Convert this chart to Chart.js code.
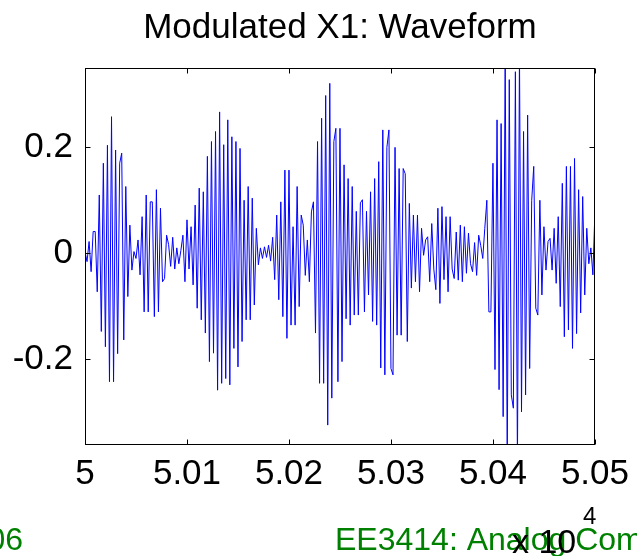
<!DOCTYPE html>
<html>
<head>
<meta charset="utf-8">
<title>Modulated X1: Waveform</title>
<script src="https://cdn.jsdelivr.net/npm/chart.js"></script>
<style>
  html, body { margin: 0; padding: 0; background: #fff; overflow: hidden; }
  #wrap { width: 637px; height: 556px; }
</style>
</head>
<body>
<div id="wrap"><canvas id="wave" width="637" height="556"></canvas></div>
<script>
// samples, n = 50000:2:50500
const sampleStart = 50000;
const sampleStep = 2;
const modulatedX1 = [
  0.003, -0.016, 0.022, -0.035, 0.041, 0.041, -0.073, 0.110, -0.148, 0.170,
  -0.177, 0.204, -0.243, 0.258, -0.243, 0.195, -0.190, 0.170, 0.189, -0.164,
  0.126, -0.082, 0.053, -0.032, 0.003, -0.010, 0.025, -0.041, 0.069, -0.111,
  0.110, -0.111, 0.097, 0.097, -0.120, 0.120, -0.111, 0.085, -0.054, -0.048,
  0.034,
  0.016, -0.025, 0.030, -0.030, 0.010, -0.020, 0.005, 0.034, -0.054, 0.063,
  -0.030, 0.050, -0.060, 0.091, -0.104, 0.123, -0.126, 0.116, -0.151, 0.183,
  -0.205, 0.211, -0.189, 0.230, -0.259, 0.267, -0.246, 0.205, -0.237, 0.252,
  -0.249, 0.220, -0.180, 0.211, -0.215, 0.198, -0.167, 0.100, -0.126, 0.126,
  -0.126, 0.104,
  -0.098, 0.047, -0.022, 0.010, -0.010, 0.012, -0.008, 0.015, -0.015, 0.030,
  -0.050, 0.072, -0.088, 0.097, -0.120, 0.157, -0.161, 0.157, -0.136, 0.050,
  -0.136, 0.126, -0.101, 0.072, 0.053, -0.042, 0.025, -0.054, 0.078, 0.097,
  -0.151, 0.211, -0.246, 0.255, -0.246, 0.298, -0.325, 0.321, -0.274, 0.211,
  0.236, -0.243,
  0.236, -0.205, 0.167, -0.124, 0.141, -0.136, 0.126, -0.117, 0.079, -0.117,
  0.095, 0.101, -0.111, 0.079, -0.079, 0.116, -0.129, 0.141, -0.136, 0.173,
  -0.217, 0.233, -0.230, 0.200, 0.233, -0.218, -0.230, 0.200, -0.155, 0.160,
  -0.155, 0.160, 0.150, -0.167, 0.094, -0.066, 0.072, -0.054, 0.072, -0.073,
  0.047,
  -0.004, 0.025, 0.031, -0.054, 0.056, -0.030, -0.069, 0.085, -0.095, 0.088,
  -0.050, 0.069, -0.073, 0.069, -0.030, -0.048, 0.040, -0.051, 0.053, -0.054,
  0.050, -0.038, 0.038, -0.020, -0.035, 0.020, -0.042, 0.034, 0.015, -0.010,
  0.047, 0.100, -0.111, -0.111, 0.170, -0.220, 0.252, -0.258, 0.245, -0.309,
  0.380, -0.400,
  0.328, -0.268, -0.293, 0.343, -0.400, 0.380, -0.300, 0.230, -0.268, 0.261,
  -0.218, 0.100, 0.164, -0.104, -0.117, 0.100, -0.079, 0.050, -0.032, 0.022,
  0.028, -0.032, 0.047, -0.057, 0.069, -0.101, 0.132, -0.158, 0.164, -0.145,
  0.164, -0.180, 0.179, -0.152, 0.120, -0.113, 0.107, -0.079, 0.047, -0.020,
  0.010, -0.041, 0.079
];

const xTicks = [50000, 50100, 50200, 50300, 50400, 50500];
const xTickLabels = ['5', '5.01', '5.02', '5.03', '5.04', '5.05'];
const yTicks = [-0.2, 0, 0.2];
const yTickLabels = ['-0.2', '0', '0.2'];
const yLimits = [-0.3626, 0.35];
const titleText = 'Modulated X1: Waveform';
const exponentBase = 'x 10';
const exponentPower = '4';
const footerLeft = '06';
const footerRight = 'EE3414: Analog Communications';

const FONT = "'Liberation Sans', Arial, Helvetica, sans-serif";

const points = modulatedX1.map((v, i) => ({ x: sampleStart + i * sampleStep, y: v }));

// matlab style box with inward ticks + footer texts
const matlabFrame = {
  id: 'matlabFrame',
  afterDatasetsDraw(chart) {
    const { ctx, chartArea: a, scales } = chart;
    const L = Math.round(a.left) + 0.5;
    const R = Math.round(a.right) - 0.5;
    const T = Math.round(a.top) + 0.5;
    const B = Math.round(a.bottom) - 0.5;
    const len = 5;
    ctx.save();
    ctx.strokeStyle = '#000';
    ctx.lineWidth = 1;
    ctx.strokeRect(L, T, R - L, B - T);
    ctx.beginPath();
    xTicks.forEach(v => {
      const px = Math.round(scales.x.getPixelForValue(v)) + 0.5;
      ctx.moveTo(px, B); ctx.lineTo(px, B - len);
      ctx.moveTo(px, T); ctx.lineTo(px, T + len);
    });
    yTicks.forEach(v => {
      const py = Math.round(scales.y.getPixelForValue(v)) + 0.5;
      ctx.moveTo(L, py); ctx.lineTo(L + len, py);
      ctx.moveTo(R, py); ctx.lineTo(R - len, py);
    });
    ctx.stroke();
    ctx.restore();
  },
  afterDraw(chart) {
    const ctx = chart.ctx;
    ctx.save();
    ctx.textBaseline = 'alphabetic';
    ctx.fillStyle = 'rgb(0,128,0)';
    ctx.font = '32px ' + FONT;
    ctx.textAlign = 'right';
    ctx.fillText(footerLeft, 23, 550);
    ctx.textAlign = 'left';
    ctx.fillText(footerRight, 335, 550);
    ctx.fillStyle = '#000';
    ctx.font = '34px ' + FONT;
    ctx.fillText(exponentBase, 512, 553);
    ctx.font = '24px ' + FONT;
    ctx.fillText(exponentPower, 583, 524);
    ctx.restore();
  }
};

new Chart(document.getElementById('wave'), {
  type: 'line',
  data: {
    datasets: [{
      data: points,
      borderColor: '#0000ff',
      borderWidth: 1,
      pointRadius: 0,
      tension: 0,
      fill: false,
      clip: 0
    }]
  },
  options: {
    responsive: false,
    animation: false,
    layout: { padding: { left: 0, right: 41, top: 0, bottom: 0 } },
    plugins: {
      legend: { display: false },
      tooltip: { enabled: false },
      title: {
        display: true,
        fullSize: false,
        text: titleText,
        color: '#000',
        font: { family: FONT, size: 35, weight: 'normal' },
        padding: { top: 7, bottom: 19 }
      }
    },
    scales: {
      x: {
        type: 'linear',
        min: sampleStart,
        max: 50500,
        grid: { display: false, drawTicks: false },
        border: { display: false },
        afterBuildTicks: axis => { axis.ticks = xTicks.map(v => ({ value: v })); },
        afterFit: scale => { scale.height = 111; },
        ticks: {
          color: '#000',
          font: { family: FONT, size: 35 },
          padding: 8,
          maxRotation: 0,
          autoSkip: false,
          callback: v => xTickLabels[xTicks.indexOf(v)]
        }
      },
      y: {
        min: yLimits[0],
        max: yLimits[1],
        grid: { display: false, drawTicks: false },
        border: { display: false },
        afterBuildTicks: axis => { axis.ticks = yTicks.map(v => ({ value: v })); },
        afterFit: scale => { scale.width = 85; },
        ticks: {
          color: '#000',
          font: { family: FONT, size: 35 },
          padding: 12,
          callback: v => yTickLabels[yTicks.indexOf(v)]
        }
      }
    }
  },
  plugins: [matlabFrame]
});
</script>
</body>
</html>
